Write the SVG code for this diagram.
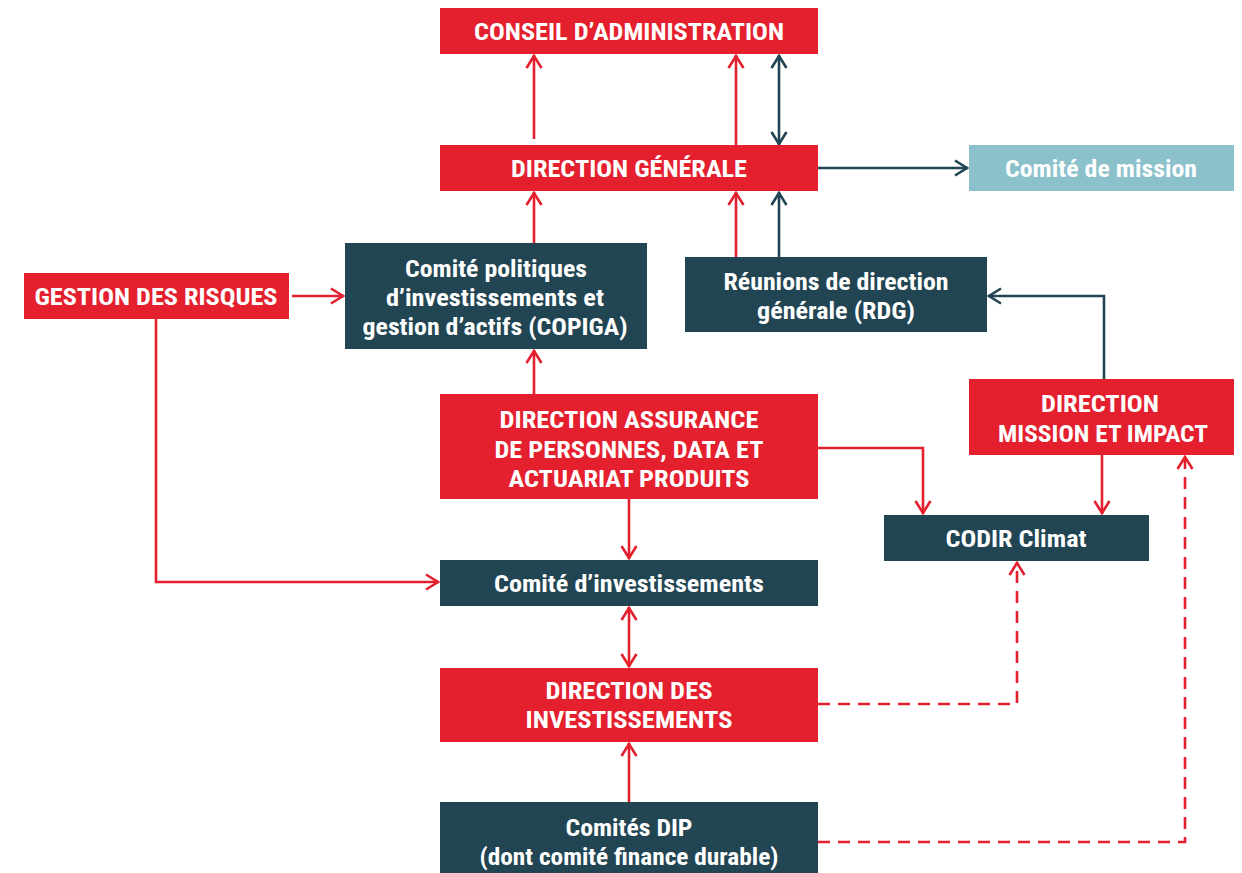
<svg xmlns="http://www.w3.org/2000/svg" width="1242" height="873" viewBox="0 0 1242 873">
<style>
.red{fill:#E4202E}
.dark{fill:#224553}
.light{fill:#8AC1CB}
text{font-family:"Roboto Condensed",Roboto,"Liberation Sans",sans-serif;font-weight:700;font-size:23.5px;fill:#fff;text-anchor:middle}
.cr{fill:none;stroke:#E4202E;stroke-width:2.6}
.cd{fill:none;stroke:#224553;stroke-width:2.6}
.dash{stroke-dasharray:12 8}
</style>
<defs>
<marker id="ar" markerUnits="userSpaceOnUse" markerWidth="20" markerHeight="20" viewBox="-14 -10 16 20" refX="0" refY="0" orient="auto-start-reverse">
<path d="M-13,-7.5 L-1,0 L-13,7.5" fill="none" stroke="#E4202E" stroke-width="2.6"/>
</marker>
<marker id="ad" markerUnits="userSpaceOnUse" markerWidth="20" markerHeight="20" viewBox="-14 -10 16 20" refX="0" refY="0" orient="auto-start-reverse">
<path d="M-13,-7.5 L-1,0 L-13,7.5" fill="none" stroke="#224553" stroke-width="2.6"/>
</marker>
</defs>
<g id="connectors">
<path class="cr" d="M534,139 V55" marker-end="url(#ar)"/>
<path class="cr" d="M736,145 V55" marker-end="url(#ar)"/>
<path class="cd" d="M779,145 V55" marker-start="url(#ad)" marker-end="url(#ad)"/>
<path class="cd" d="M818,168 H968" marker-end="url(#ad)"/>
<path class="cr" d="M534,243 V192" marker-end="url(#ar)"/>
<path class="cr" d="M736,257 V192" marker-end="url(#ar)"/>
<path class="cd" d="M779,257 V192" marker-end="url(#ad)"/>
<path class="cr" d="M292,296 H344" marker-end="url(#ar)"/>
<path class="cr" d="M156,319 V582 H439" marker-end="url(#ar)"/>
<path class="cr" d="M534,394 V350" marker-end="url(#ar)"/>
<path class="cr" d="M818,448 H923 V514" marker-end="url(#ar)"/>
<path class="cr" d="M1102,455 V514" marker-end="url(#ar)"/>
<path class="cd" d="M1104,379 V296 H988" marker-end="url(#ad)"/>
<path class="cr" d="M629,499 V559" marker-end="url(#ar)"/>
<path class="cr" d="M629,607 V667" marker-start="url(#ar)" marker-end="url(#ar)"/>
<path class="cr" d="M629,802 V743" marker-end="url(#ar)"/>
<path class="cr dash" d="M818,704 H1017 V562" marker-end="url(#ar)"/>
<path class="cr dash" d="M818,842 H1185 V456" marker-end="url(#ar)"/>
</g>
<g id="conseil"><rect class="red" x="440" y="8" width="378" height="46"/><text x="629" y="40" textLength="310" lengthAdjust="spacingAndGlyphs">CONSEIL D’ADMINISTRATION</text></g>
<g id="dg"><rect class="red" x="440" y="145" width="378" height="46"/><text x="629" y="177" textLength="236" lengthAdjust="spacingAndGlyphs">DIRECTION GÉNÉRALE</text></g>
<g id="mission"><rect class="light" x="969" y="145" width="265" height="46"/><text x="1101" y="177" textLength="192" lengthAdjust="spacingAndGlyphs">Comité de mission</text></g>
<g id="risques"><rect class="red" x="24" y="273" width="265" height="46"/><text x="156" y="305" textLength="243" lengthAdjust="spacingAndGlyphs">GESTION DES RISQUES</text></g>
<g id="copiga"><rect class="dark" x="345" y="243" width="302" height="106"/>
<text x="496" y="277" textLength="182" lengthAdjust="spacingAndGlyphs">Comité politiques</text>
<text x="495" y="306" textLength="218" lengthAdjust="spacingAndGlyphs">d’investissements et</text>
<text x="495" y="335" textLength="265" lengthAdjust="spacingAndGlyphs">gestion d’actifs (COPIGA)</text></g>
<g id="rdg"><rect class="dark" x="685" y="257" width="302" height="75"/>
<text x="836" y="290" textLength="225" lengthAdjust="spacingAndGlyphs">Réunions de direction</text>
<text x="836" y="319" textLength="158" lengthAdjust="spacingAndGlyphs">générale (RDG)</text></g>
<g id="assurance"><rect class="red" x="440" y="394" width="378" height="105"/>
<text x="629" y="428" textLength="259" lengthAdjust="spacingAndGlyphs">DIRECTION ASSURANCE</text>
<text x="629" y="458" textLength="269" lengthAdjust="spacingAndGlyphs">DE PERSONNES, DATA ET</text>
<text x="629" y="487" textLength="241" lengthAdjust="spacingAndGlyphs">ACTUARIAT PRODUITS</text></g>
<g id="dmi"><rect class="red" x="969" y="379" width="265" height="76"/>
<text x="1100" y="412" textLength="118" lengthAdjust="spacingAndGlyphs">DIRECTION</text>
<text x="1103" y="442" textLength="210" lengthAdjust="spacingAndGlyphs">MISSION ET IMPACT</text></g>
<g id="codir"><rect class="dark" x="884" y="515" width="265" height="46"/><text x="1016" y="547" textLength="141" lengthAdjust="spacingAndGlyphs">CODIR Climat</text></g>
<g id="ci"><rect class="dark" x="440" y="560" width="378" height="46"/><text x="629" y="592" textLength="270" lengthAdjust="spacingAndGlyphs">Comité d’investissements</text></g>
<g id="di"><rect class="red" x="440" y="668" width="378" height="74"/>
<text x="629" y="699" textLength="167" lengthAdjust="spacingAndGlyphs">DIRECTION DES</text>
<text x="629" y="728" textLength="207" lengthAdjust="spacingAndGlyphs">INVESTISSEMENTS</text></g>
<g id="dip"><rect class="dark" x="440" y="802" width="378" height="71"/>
<text x="629" y="836" textLength="127" lengthAdjust="spacingAndGlyphs">Comités DIP</text>
<text x="629" y="865" textLength="299" lengthAdjust="spacingAndGlyphs">(dont comité finance durable)</text></g>
</svg>
